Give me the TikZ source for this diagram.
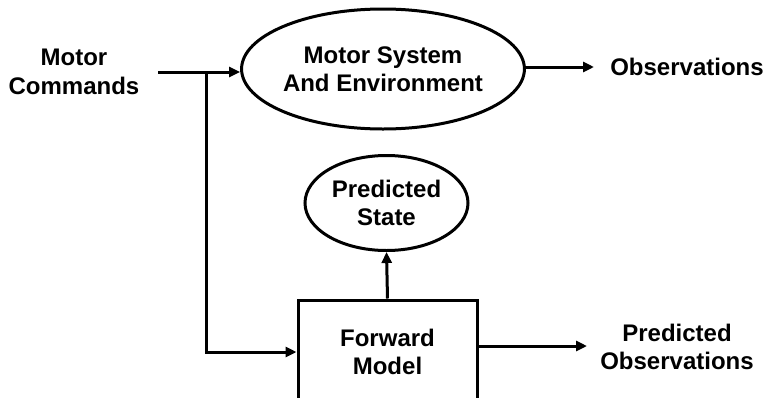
\documentclass[tikz,border=0pt]{standalone}
\usepackage{fontspec}
\setmainfont{Liberation Sans}
\usetikzlibrary{shapes.geometric,arrows.meta}
\begin{document}
\begin{tikzpicture}[x=1pt,y=-1pt,
  lbl/.style={font=\fontsize{24}{28.5}\selectfont\bfseries, align=center, inner sep=0pt},
  oval/.style={ellipse, draw, line width=3pt, inner sep=0pt, lbl},
  blockbox/.style={rectangle, draw, line width=3pt, inner sep=0pt, lbl},
  conn/.style={line width=3pt, -{Triangle[length=11pt,width=10pt]}},
  wire/.style={line width=3pt}]
  \useasboundingbox (0,0) rectangle (766,397);
  \clip (0,0) rectangle (766,397);

  % labels
  \node[lbl] (cmds) at (74,72) {Motor\\Commands};
  \node[lbl] (obs) at (687,67) {Observations};
  \node[lbl] (pobs) at (677,347) {Predicted\\Observations};

  % blocks
  \node[oval, minimum width=254, minimum height=120] (sys) at (383,69) {Motor System\\And Environment};
  \node[oval, minimum width=163, minimum height=95] (state) at (386.5,203) {Predicted\\State};
  \node[blockbox, minimum width=179, minimum height=104] (fwd) at (387.5,352) {Forward\\Model};

  % connectors
  \coordinate (start) at (158,72);
  \coordinate (junc) at (206,72);
  \coordinate (obsend) at (594,67);
  \coordinate (pobsend) at (587,346);
  \draw[conn] (start) -- (start -| sys.west);
  \draw[conn] (junc) |- (fwd.west);
  \draw[conn] (sys.east |- obsend) -- (obsend);
  \draw[conn] (fwd.north) -- (state.south);
  \draw[conn] (fwd.east |- pobsend) -- (pobsend);
\end{tikzpicture}
\end{document}
